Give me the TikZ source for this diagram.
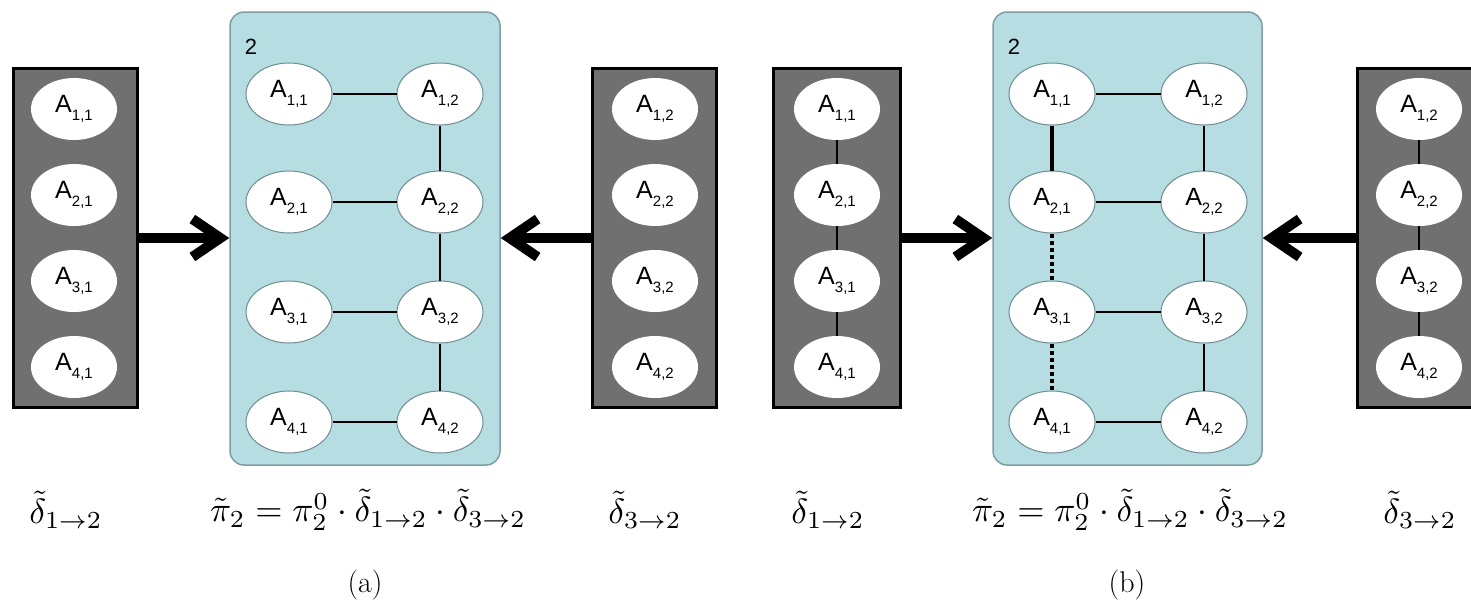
\documentclass[tikz,border=0pt]{standalone}
\usepackage{fontspec}
\newfontfamily\nsf{Liberation Sans}
\usetikzlibrary{arrows.meta,shapes.geometric}
\definecolor{gbox}{HTML}{707070}
\definecolor{cbox}{HTML}{B5DDE2}
\definecolor{cedge}{HTML}{7E9EA3}
\definecolor{eedge}{HTML}{6E8C92}
\newcommand{\Asub}[2]{{\nsf\fontsize{25}{28}\selectfont A\raisebox{-0.3em}{\fontsize{15}{17}\selectfont #1,#2}}}
\newcommand{\bigmath}[1]{\scalebox{3.5}{$#1$}}
\tikzset{
  grayframe/.style={draw=black, line width=3pt, fill=gbox, inner sep=0pt},
  cyanframe/.style={draw=cedge, line width=1.5pt, fill=cbox, rounded corners=14pt, inner sep=0pt},
  wel/.style={ellipse, fill=white, minimum width=86pt, minimum height=62pt, inner sep=0pt},
  cel/.style={wel, draw=eedge, line width=1pt},
  link/.style={line width=2pt},
  strong/.style={line width=4.5pt},
  dotlink/.style={line width=4.5pt, dash pattern=on 4pt off 3pt},
  bigarrow/.style={line width=10pt, -{Straight Barb[length=28pt,width=38pt]}},
  lab/.style={inner sep=0pt},
  captext/.style={font=\fontsize{30}{36}\selectfont, inner sep=0pt},
  numlab/.style={font=\nsf\fontsize{22}{26}\selectfont, inner sep=0pt}
}
\begin{document}
\begin{tikzpicture}[x=1pt,y=-1pt]
\useasboundingbox (0,0) rectangle (1471,608);
% ---------- panel (a) ----------
\node[grayframe, minimum width=124pt, minimum height=339pt] (La) at (75,238) {};
\node[grayframe, minimum width=124pt, minimum height=339pt] (Ra) at (654,238) {};
\node[cyanframe, minimum width=270pt, minimum height=453pt] (Ca) at (365,238.5) {};
\node[numlab] (ta) at (251,47) {2};
\foreach \i/\y in {1/109,2/195,3/281,4/367} {
  \node[wel] (la\i) at (74,\y) {\Asub{\i}{1}};
  \node[wel] (ra\i) at (655,\y) {\Asub{\i}{2}};
}
\foreach \i/\y in {1/94,2/202,3/312,4/422} {
  \node[cel] (pa\i1) at (289,\y) {\Asub{\i}{1}};
  \node[cel] (pa\i2) at (440,\y) {\Asub{\i}{2}};
  \draw[link] (pa\i1) -- (pa\i2);
}
\draw[link] (pa12) -- (pa22) (pa22) -- (pa32) (pa32) -- (pa42);
\draw[bigarrow] (La.east) -- (La.east -| Ca.west);
\draw[bigarrow] (Ra.west) -- (Ra.west -| Ca.east);
\node[lab] (da1) at (66,510) {\bigmath{\tilde{\delta}_{1\to 2}}};
\node[lab] (pia) at (368,510) {\bigmath{\tilde{\pi}_2=\pi_2^0\cdot\tilde{\delta}_{1\to 2}\cdot\tilde{\delta}_{3\to 2}}};
\node[lab] (da3) at (645,510) {\bigmath{\tilde{\delta}_{3\to 2}}};
\node[captext] (capa) at (365,585) {(a)};
% ---------- panel (b) ----------
\node[grayframe, minimum width=127pt, minimum height=339pt] (Lb) at (836.5,238) {};
\node[grayframe, minimum width=128pt, minimum height=339pt] (Rb) at (1421,238) {};
\node[cyanframe, minimum width=269pt, minimum height=453pt] (Cb) at (1127.5,238.5) {};
\node[numlab] (tb) at (1014,47) {2};
\foreach \i/\y in {1/109,2/195,3/281,4/367} {
  \node[wel] (lb\i) at (837,\y) {\Asub{\i}{1}};
  \node[wel] (rb\i) at (1419,\y) {\Asub{\i}{2}};
}
\draw[link] (lb1) -- (lb2) (lb2) -- (lb3) (lb3) -- (lb4);
\draw[link] (rb1) -- (rb2) (rb2) -- (rb3) (rb3) -- (rb4);
\foreach \i/\y in {1/94,2/202,3/312,4/422} {
  \node[cel] (pb\i1) at (1052,\y) {\Asub{\i}{1}};
  \node[cel] (pb\i2) at (1204,\y) {\Asub{\i}{2}};
  \draw[link] (pb\i1) -- (pb\i2);
}
\draw[link] (pb12) -- (pb22) (pb22) -- (pb32) (pb32) -- (pb42);
\draw[strong] (pb11) -- (pb21);
\draw[dotlink] (pb21) -- (pb31);
\draw[dotlink] (pb31) -- (pb41);
\draw[bigarrow] (Lb.east) -- (Lb.east -| Cb.west);
\draw[bigarrow] (Rb.west) -- (Rb.west -| Cb.east);
\node[lab] (db1) at (828,510) {\bigmath{\tilde{\delta}_{1\to 2}}};
\node[lab] (pib) at (1130,510) {\bigmath{\tilde{\pi}_2=\pi_2^0\cdot\tilde{\delta}_{1\to 2}\cdot\tilde{\delta}_{3\to 2}}};
\node[lab] (db3) at (1420,510) {\bigmath{\tilde{\delta}_{3\to 2}}};
\node[captext] (capb) at (1127,585) {(b)};
\end{tikzpicture}
\end{document}
